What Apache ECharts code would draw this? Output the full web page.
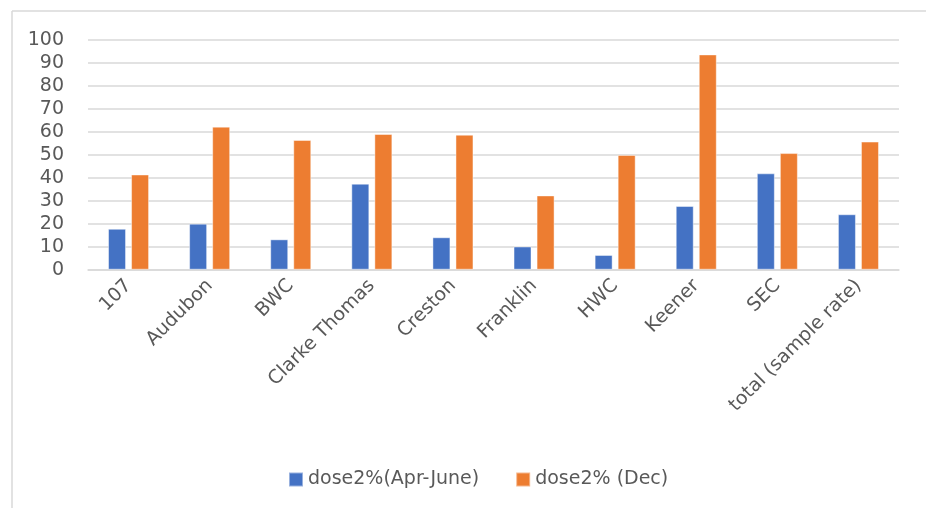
<!DOCTYPE html>
<html>
<head>
<meta charset="utf-8">
<style>
  html, body { margin: 0; padding: 0; background: #ffffff; }
  #chart { width: 926px; height: 508px; }
</style>
<script src="https://cdn.jsdelivr.net/npm/echarts@6/dist/echarts.min.js"></script>
</head>
<body>
<div id="chart"></div>
<script>
// Sites sampled
const categories = ['107', 'Audubon', 'BWC', 'Clarke Thomas', 'Creston', 'Franklin', 'HWC', 'Keener', 'SEC', 'total (sample rate)'];

// Series names
const seriesNames = ['dose2%(Apr-June)', 'dose2% (Dec)'];

// Second-dose percentage, April to June
const dose2AprJune = [17.8, 20.0, 13.2, 37.4, 14.1, 10.1, 6.4, 27.7, 41.9, 24.1];

// Second-dose percentage, December
const dose2Dec = [41.4, 62.2, 56.4, 59.0, 58.7, 32.3, 49.9, 93.6, 50.7, 55.7];

// Value axis ticks
const yMin = 0;
const yMax = 100;
const yStep = 10;

const textColor = '#595959';
const lineColor = '#d9d9d9';
const fontFamily = '"DejaVu Sans", "Liberation Sans", sans-serif';

const chart = echarts.init(document.getElementById('chart'), null, { renderer: 'canvas' });

chart.setOption({
  animation: false,
  backgroundColor: '#ffffff',
  textStyle: { fontFamily: fontFamily, color: textColor },
  grid: { left: 88, right: 27, top: 39.7, bottom: 238.3, containLabel: false },
  graphic: [
    { type: 'line', shape: { x1: 12, y1: 11, x2: 926, y2: 11 }, style: { stroke: lineColor, lineWidth: 1.5 }, silent: true },
    { type: 'line', shape: { x1: 12, y1: 11, x2: 12, y2: 508 }, style: { stroke: lineColor, lineWidth: 1.5 }, silent: true }
  ],
  legend: {
    data: seriesNames,
    left: 283,
    top: 465,
    itemWidth: 14,
    itemHeight: 14,
    itemGap: 36,
    icon: 'rect',
    textStyle: { fontFamily: fontFamily, fontSize: 19, color: textColor }
  },
  xAxis: {
    type: 'category',
    data: categories,
    axisLine: { show: true, lineStyle: { color: lineColor, width: 1.5 } },
    axisTick: { show: false },
    axisLabel: {
      rotate: 45,
      interval: 0,
      margin: 13,
      fontFamily: fontFamily,
      fontSize: 19,
      color: textColor
    }
  },
  yAxis: {
    type: 'value',
    min: yMin,
    max: yMax,
    interval: yStep,
    axisLine: { show: false },
    axisTick: { show: false },
    axisLabel: { margin: 24, fontFamily: fontFamily, fontSize: 19, color: textColor },
    splitLine: { show: true, lineStyle: { color: lineColor, width: 1.5 } }
  },
  series: [
    {
      name: seriesNames[0],
      type: 'bar',
      data: dose2AprJune,
      barWidth: 18,
      barGap: '28%',
      itemStyle: { color: '#4472C4', borderColor: 'rgba(255,255,255,0.45)', borderWidth: 1 }
    },
    {
      name: seriesNames[1],
      type: 'bar',
      data: dose2Dec,
      barWidth: 18,
      barGap: '28%',
      itemStyle: { color: '#ED7D31', borderColor: 'rgba(255,255,255,0.45)', borderWidth: 1 }
    }
  ]
});
</script>
</body>
</html>
